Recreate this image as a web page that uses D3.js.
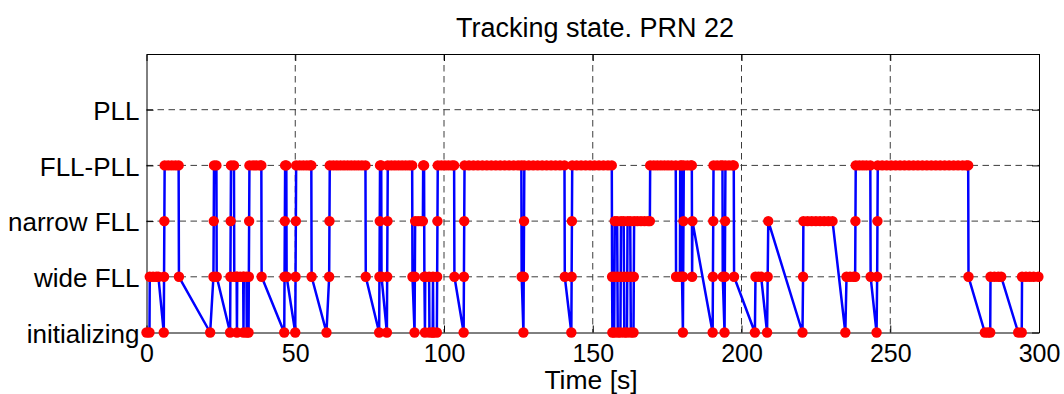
<!DOCTYPE html>
<html>
<head>
<meta charset="utf-8">
<script src="https://cdn.jsdelivr.net/npm/d3@7"></script>
<style>
  body { margin: 0; background: #fff; }
  svg { display: block; }
  text { font-family: "Liberation Sans", Arial, Helvetica, sans-serif; fill: #000; }
</style>
</head>
<body>
<svg id="chart" width="1064" height="394"></svg>
<script>
// Tracking-loop state of PRN 22 over time (s); state index 0..4
const timeSec = [
  0, 1.0, 1.1, 2.2, 3.3, 4.0,
  5.8, 5.9, 6.0, 6.1, 7.3, 8.5, 9.7, 10.8, 10.9,
  21.4, 22.5, 22.6, 22.7, 23.5, 23.6,
  28.1, 28.2, 28.3, 28.4, 29.4, 29.5, 30.3, 30.4, 30.5, 31.5, 32.5, 32.6, 32.7, 33.6, 33.7, 34.3, 34.4, 34.5, 34.6, 35.8, 37.0, 38.2, 38.6, 38.7,
  46.3, 46.4, 46.5, 46.6, 47.0, 47.1,
  50.0, 50.1, 50.2, 50.3, 51.5, 52.7, 53.9, 55.0, 55.4, 55.5,
  60.5, 61.4, 61.5, 61.6, 62.8, 64.0, 65.2, 66.4, 67.6, 68.8, 70.0, 71.2, 72.4, 73.6, 73.7,
  78.2, 78.3, 78.4, 78.5, 78.9, 79.0, 80.8, 80.9, 81.0, 81.1, 82.3, 83.5, 84.7, 85.9, 87.1, 88.3, 89.3, 89.4,
  90.1, 90.2, 90.3, 91.3, 92.3, 92.9, 93.0, 93.3, 93.4, 93.6, 93.7, 95.0, 95.1, 96.2, 96.3, 96.4, 97.6, 97.7, 97.8, 97.9,
  99.1, 100.3, 101.5, 102.7, 103.4, 103.5,
  106.6, 106.7, 106.8, 106.9, 108.4, 109.9, 111.4, 112.9, 114.4, 115.9, 117.4, 118.9, 120.4, 121.9, 123.4, 124.9, 126.0,
  126.1, 126.7, 126.8, 126.9, 127.0, 128.5, 130.0, 131.5, 133.0, 134.5, 136.0, 137.5, 139.0, 140.5, 140.6,
  142.8, 142.9, 143.0, 143.1, 144.6, 146.1, 147.6, 149.1, 150.6, 152.1, 153.6, 155.1, 156.4,
  156.5, 156.6, 157.2, 157.3, 157.4, 158.2, 158.3, 158.4, 159.3, 159.4, 159.5, 160.4, 160.5, 160.6, 161.5, 161.6, 161.7,
  162.6, 162.7, 162.8, 163.7, 163.8, 163.9, 165.0, 166.2, 167.4, 168.6, 169.2, 169.3,
  170.5, 171.7, 172.9, 174.1, 175.3, 176.5, 177.9,
  178.0, 179.3, 179.4, 179.9, 180.0, 180.3, 180.4, 180.5, 180.6, 181.8, 183.0, 183.3, 183.4, 183.5,
  190.3, 190.4, 190.5, 190.6, 191.8, 193.0, 193.6, 193.7, 194.3, 194.4, 194.5, 194.6, 195.8, 197.0, 197.4, 197.5,
  204.5, 204.7, 205.7, 206.6, 208.6, 208.8, 209.0,
  220.5, 220.7, 220.8, 222.2, 223.6, 225.0, 226.4, 227.8, 229.2, 230.6,
  234.9, 235.3, 236.5, 237.7, 238.2, 238.3, 238.4, 239.6, 240.8, 242.0, 243.3, 243.4,
  245.4, 245.6, 245.7, 245.8, 247.3, 248.8, 250.3, 251.8, 253.3, 254.8, 256.3, 257.8, 259.3, 260.8,
  262.3, 263.8, 265.3, 266.8, 268.3, 269.8, 271.3, 272.8, 274.3, 275.6, 276.2, 276.3,
  281.8, 282.8, 283.6, 283.7, 285.0, 286.3, 287.3,
  293.0, 294.2, 294.3, 295.6, 296.9, 298.2, 299.8
];
const stateIdx = [
  0, 0, 1, 1, 1, 1,
  0, 1, 2, 3, 3, 3, 3, 3, 1,
  0, 1, 2, 3, 3, 1,
  0, 1, 2, 3, 3, 1, 1, 0, 1, 1, 1, 0, 1, 1, 0, 0, 1, 2, 3, 3, 3, 3, 3, 1,
  0, 1, 2, 3, 3, 1,
  0, 1, 2, 3, 3, 3, 3, 3, 3, 1,
  0, 1, 2, 3, 3, 3, 3, 3, 3, 3, 3, 3, 3, 3, 1,
  0, 1, 2, 3, 3, 1, 0, 1, 2, 3, 3, 3, 3, 3, 3, 3, 3, 1,
  0, 1, 2, 2, 2, 2, 3, 3, 1, 0, 1, 1, 0, 0, 1, 0, 0, 1, 2, 3,
  3, 3, 3, 3, 3, 1,
  0, 1, 2, 3, 3, 3, 3, 3, 3, 3, 3, 3, 3, 3, 3, 3, 3,
  1, 0, 1, 2, 3, 3, 3, 3, 3, 3, 3, 3, 3, 3, 1,
  0, 1, 2, 3, 3, 3, 3, 3, 3, 3, 3, 3, 3,
  1, 0, 0, 1, 2, 2, 1, 0, 0, 1, 2, 2, 1, 0, 0, 1, 2,
  2, 1, 0, 0, 1, 2, 2, 2, 2, 2, 2, 3,
  3, 3, 3, 3, 3, 3, 3,
  1, 1, 3, 3, 1, 0, 1, 2, 3, 3, 3, 3, 1, 2,
  0, 1, 2, 3, 3, 3, 3, 1, 0, 1, 2, 3, 3, 3, 3, 1,
  0, 1, 1, 1, 0, 1, 2,
  0, 1, 2, 2, 2, 2, 2, 2, 2, 2,
  0, 1, 1, 1, 1, 2, 3, 3, 3, 3, 3, 1,
  0, 1, 2, 3, 3, 3, 3, 3, 3, 3, 3, 3, 3, 3,
  3, 3, 3, 3, 3, 3, 3, 3, 3, 3, 3, 1,
  0, 0, 0, 1, 1, 1, 1,
  0, 0, 1, 1, 1, 1, 1
];
const stateLabels = ["initializing", "wide FLL", "narrow FLL", "FLL-PLL", "PLL"];
const xTicks = [0, 50, 100, 150, 200, 250, 300];
const chartTitle = "Tracking state. PRN 22";
const xAxisLabel = "Time [s]";

const svg = d3.select("#chart");
const plot = { left: 146.5, right: 1039, top: 54, bottom: 332.5 };

const x = d3.scaleLinear().domain([0, 300]).range([plot.left, plot.right]);
const y = d3.scaleLinear().domain([0, 5]).range([plot.bottom, plot.top]);
const yTicks = d3.range(stateLabels.length);

// dashed grid
const grid = svg.append("g").attr("stroke", "#3c3c3c").attr("stroke-width", 1)
  .attr("stroke-dasharray", "6.5,4.5").attr("fill", "none");
xTicks.filter(t => t > 0 && t < 300).forEach(t => {
  grid.append("line").attr("x1", x(t)).attr("x2", x(t)).attr("y1", plot.top).attr("y2", plot.bottom);
});
yTicks.filter(v => v > 0).forEach(v => {
  grid.append("line").attr("x1", plot.left).attr("x2", plot.right).attr("y1", y(v)).attr("y2", y(v));
});

// axes box with inward ticks
const tickLen = 7;
const fontStack = "'Liberation Sans', Arial, sans-serif";
const bottomAxis = d3.axisBottom(x).tickValues(xTicks).tickSizeInner(-tickLen).tickSizeOuter(0).tickPadding(12);
const topAxis = d3.axisTop(x).tickValues(xTicks).tickSizeInner(-tickLen).tickSizeOuter(0).tickFormat("");
const leftAxis = d3.axisLeft(y).tickValues(yTicks).tickSizeInner(-tickLen).tickSizeOuter(0).tickPadding(7)
  .tickFormat(d => stateLabels[d]);
const rightAxis = d3.axisRight(y).tickValues(yTicks).tickSizeInner(-tickLen).tickSizeOuter(0).tickFormat("");

function styleAxis(g, size) {
  g.select(".domain").attr("stroke", "#000").attr("stroke-width", 1);
  g.selectAll(".tick line").attr("stroke", "#000").attr("stroke-width", 1);
  g.selectAll(".tick text").attr("fill", "#000").attr("font-size", size).attr("font-family", fontStack);
}
const axisG = svg.append("g");
axisG.append("g").attr("transform", `translate(0,${plot.bottom})`).call(bottomAxis).call(styleAxis, 25);
axisG.append("g").attr("transform", `translate(0,${plot.top})`).call(topAxis).call(styleAxis, 25);
axisG.append("g").attr("transform", `translate(${plot.left},0)`).call(leftAxis).call(styleAxis, 26)
  .selectAll(".tick text").attr("dy", "0.37em");
axisG.append("g").attr("transform", `translate(${plot.right},0)`).call(rightAxis).call(styleAxis, 25);

// state trace
const pts = timeSec.map((t, i) => ({ t, s: stateIdx[i] }));
const line = d3.line().x(d => x(d.t)).y(d => y(d.s));
svg.append("path").datum(pts).attr("d", line)
  .attr("fill", "none").attr("stroke", "#0000ff").attr("stroke-width", 2.5)
  .attr("stroke-linejoin", "round");
svg.append("g").selectAll("circle").data(pts).join("circle")
  .attr("cx", d => x(d.t)).attr("cy", d => y(d.s)).attr("r", 5.2)
  .attr("fill", "#ff0000");

// title and axis label
svg.append("text").attr("x", 595).attr("y", 37)
  .attr("text-anchor", "middle").attr("font-size", 27).text(chartTitle);
svg.append("text").attr("x", 591).attr("y", 389)
  .attr("text-anchor", "middle").attr("font-size", 26.5).text(xAxisLabel);
</script>
</body>
</html>
